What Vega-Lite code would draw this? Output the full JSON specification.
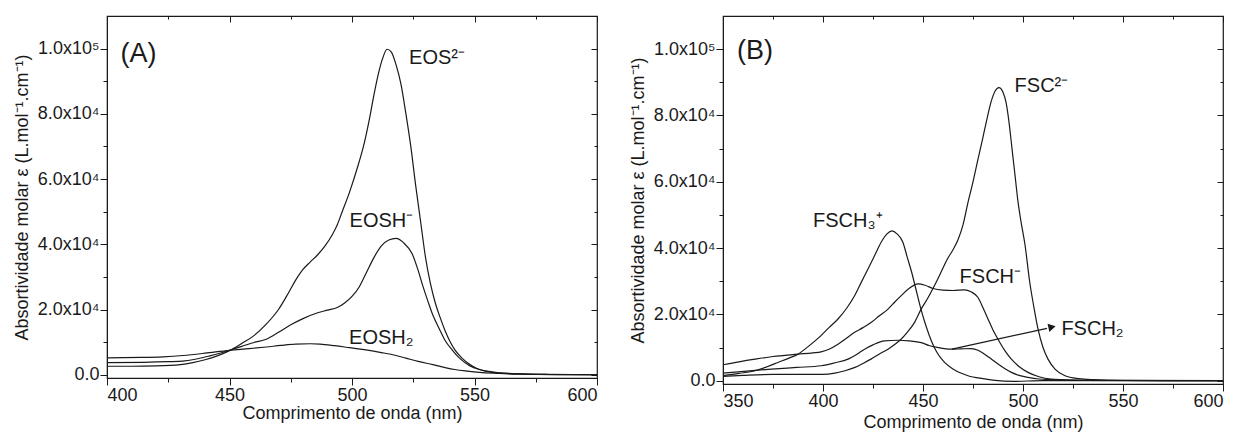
{
  "$schema": "https://vega.github.io/schema/vega-lite/v6.json",
  "padding": {"left": 12, "top": 14, "right": 5, "bottom": 5},
  "spacing": 28,
  "config": {
    "font": "Liberation Sans",
    "view": {"stroke": "#1a1a1a", "strokeWidth": 1.2},
    "axis": {
      "domainColor": "#1a1a1a", "tickColor": "#1a1a1a", "labelColor": "#1a1a1a", "titleColor": "#1a1a1a",
      "grid": false, "labelFontSize": 18, "titleFontSize": 18, "titleFontWeight": "normal",
      "labelFont": "Liberation Sans", "titleFont": "Liberation Sans", "labelOverlap": false, "labelPadding": 1
    }
  },
  "datasets": {
    "A": [
      {"nm":400,"eps":2600,"s":"EOS"},{"nm":410,"eps":2600,"s":"EOS"},{"nm":420,"eps":2700,"s":"EOS"},{"nm":430,"eps":3100,"s":"EOS"},{"nm":435,"eps":3700,"s":"EOS"},{"nm":440,"eps":4600,"s":"EOS"},{"nm":445,"eps":5800,"s":"EOS"},{"nm":450,"eps":7400,"s":"EOS"},{"nm":455,"eps":9600,"s":"EOS"},{"nm":460,"eps":12000,"s":"EOS"},{"nm":465,"eps":15500,"s":"EOS"},{"nm":470,"eps":20000,"s":"EOS"},{"nm":474,"eps":25000,"s":"EOS"},{"nm":477,"eps":29000,"s":"EOS"},{"nm":480,"eps":32300,"s":"EOS"},{"nm":483,"eps":34600,"s":"EOS"},{"nm":486,"eps":36800,"s":"EOS"},{"nm":489,"eps":39500,"s":"EOS"},{"nm":492,"eps":43000,"s":"EOS"},{"nm":494,"eps":46000,"s":"EOS"},{"nm":496,"eps":50000,"s":"EOS"},{"nm":499,"eps":56000,"s":"EOS"},{"nm":502,"eps":63000,"s":"EOS"},{"nm":505,"eps":71000,"s":"EOS"},{"nm":507,"eps":78000,"s":"EOS"},{"nm":509,"eps":86000,"s":"EOS"},{"nm":511,"eps":93000,"s":"EOS"},{"nm":512.5,"eps":97000,"s":"EOS"},{"nm":514.3,"eps":99800,"s":"EOS"},{"nm":516,"eps":99000,"s":"EOS"},{"nm":518,"eps":95000,"s":"EOS"},{"nm":520,"eps":89000,"s":"EOS"},{"nm":522,"eps":80000,"s":"EOS"},{"nm":524,"eps":70000,"s":"EOS"},{"nm":526,"eps":58000,"s":"EOS"},{"nm":528,"eps":47000,"s":"EOS"},{"nm":530,"eps":36000,"s":"EOS"},{"nm":532,"eps":28000,"s":"EOS"},{"nm":534,"eps":22000,"s":"EOS"},{"nm":536,"eps":17500,"s":"EOS"},{"nm":538,"eps":13500,"s":"EOS"},{"nm":540,"eps":10200,"s":"EOS"},{"nm":542,"eps":7600,"s":"EOS"},{"nm":545,"eps":5000,"s":"EOS"},{"nm":548,"eps":3200,"s":"EOS"},{"nm":551,"eps":1900,"s":"EOS"},{"nm":555,"eps":1100,"s":"EOS"},{"nm":560,"eps":600,"s":"EOS"},{"nm":570,"eps":250,"s":"EOS"},{"nm":580,"eps":100,"s":"EOS"},{"nm":600,"eps":0,"s":"EOS"},
      {"nm":400,"eps":3700,"s":"EOSH"},{"nm":415,"eps":3800,"s":"EOSH"},{"nm":425,"eps":4000,"s":"EOSH"},{"nm":431,"eps":4200,"s":"EOSH"},{"nm":437,"eps":4900,"s":"EOSH"},{"nm":442,"eps":5800,"s":"EOSH"},{"nm":446,"eps":6600,"s":"EOSH"},{"nm":450,"eps":7500,"s":"EOSH"},{"nm":455,"eps":8700,"s":"EOSH"},{"nm":460,"eps":9900,"s":"EOSH"},{"nm":465,"eps":10900,"s":"EOSH"},{"nm":470,"eps":13000,"s":"EOSH"},{"nm":475,"eps":15300,"s":"EOSH"},{"nm":480,"eps":17200,"s":"EOSH"},{"nm":486,"eps":19000,"s":"EOSH"},{"nm":490,"eps":19800,"s":"EOSH"},{"nm":494,"eps":20600,"s":"EOSH"},{"nm":497,"eps":22000,"s":"EOSH"},{"nm":500,"eps":24000,"s":"EOSH"},{"nm":503,"eps":27000,"s":"EOSH"},{"nm":506,"eps":31500,"s":"EOSH"},{"nm":509,"eps":36000,"s":"EOSH"},{"nm":512,"eps":39500,"s":"EOSH"},{"nm":515,"eps":41300,"s":"EOSH"},{"nm":518,"eps":41800,"s":"EOSH"},{"nm":521,"eps":40500,"s":"EOSH"},{"nm":524.6,"eps":37000,"s":"EOSH"},{"nm":527,"eps":32000,"s":"EOSH"},{"nm":529,"eps":27000,"s":"EOSH"},{"nm":531,"eps":22500,"s":"EOSH"},{"nm":533,"eps":18300,"s":"EOSH"},{"nm":536,"eps":13500,"s":"EOSH"},{"nm":538,"eps":10500,"s":"EOSH"},{"nm":541,"eps":7500,"s":"EOSH"},{"nm":544,"eps":5000,"s":"EOSH"},{"nm":548,"eps":2800,"s":"EOSH"},{"nm":552,"eps":1600,"s":"EOSH"},{"nm":556,"eps":900,"s":"EOSH"},{"nm":560,"eps":500,"s":"EOSH"},{"nm":570,"eps":200,"s":"EOSH"},{"nm":580,"eps":80,"s":"EOSH"},{"nm":600,"eps":0,"s":"EOSH"},
      {"nm":400,"eps":5200,"s":"EOSH2"},{"nm":414,"eps":5300,"s":"EOSH2"},{"nm":423,"eps":5500,"s":"EOSH2"},{"nm":431,"eps":5900,"s":"EOSH2"},{"nm":440,"eps":6600,"s":"EOSH2"},{"nm":450,"eps":7500,"s":"EOSH2"},{"nm":458,"eps":8000,"s":"EOSH2"},{"nm":465,"eps":8500,"s":"EOSH2"},{"nm":471,"eps":9000,"s":"EOSH2"},{"nm":477,"eps":9400,"s":"EOSH2"},{"nm":483,"eps":9500,"s":"EOSH2"},{"nm":487,"eps":9400,"s":"EOSH2"},{"nm":493,"eps":8900,"s":"EOSH2"},{"nm":499,"eps":8300,"s":"EOSH2"},{"nm":505,"eps":7700,"s":"EOSH2"},{"nm":512,"eps":6800,"s":"EOSH2"},{"nm":518,"eps":5900,"s":"EOSH2"},{"nm":522,"eps":5100,"s":"EOSH2"},{"nm":527,"eps":4100,"s":"EOSH2"},{"nm":533,"eps":3100,"s":"EOSH2"},{"nm":538,"eps":2200,"s":"EOSH2"},{"nm":542,"eps":1600,"s":"EOSH2"},{"nm":547,"eps":1100,"s":"EOSH2"},{"nm":552,"eps":700,"s":"EOSH2"},{"nm":560,"eps":400,"s":"EOSH2"},{"nm":570,"eps":150,"s":"EOSH2"},{"nm":585,"eps":50,"s":"EOSH2"},{"nm":600,"eps":0,"s":"EOSH2"}
    ],
    "B": [
      {"nm":350,"eps":1300,"s":"FSC"},{"nm":360,"eps":1600,"s":"FSC"},{"nm":375,"eps":1900,"s":"FSC"},{"nm":390,"eps":1900,"s":"FSC"},{"nm":400,"eps":1900,"s":"FSC"},{"nm":406,"eps":2300,"s":"FSC"},{"nm":411,"eps":3000,"s":"FSC"},{"nm":416,"eps":4000,"s":"FSC"},{"nm":420,"eps":5200,"s":"FSC"},{"nm":424,"eps":6500,"s":"FSC"},{"nm":428,"eps":8000,"s":"FSC"},{"nm":432.5,"eps":9500,"s":"FSC"},{"nm":436,"eps":11000,"s":"FSC"},{"nm":439,"eps":12500,"s":"FSC"},{"nm":442,"eps":14500,"s":"FSC"},{"nm":445.8,"eps":17600,"s":"FSC"},{"nm":449,"eps":21500,"s":"FSC"},{"nm":452.5,"eps":25000,"s":"FSC"},{"nm":456,"eps":29000,"s":"FSC"},{"nm":459,"eps":32700,"s":"FSC"},{"nm":462,"eps":36500,"s":"FSC"},{"nm":465,"eps":39500,"s":"FSC"},{"nm":467.5,"eps":42500,"s":"FSC"},{"nm":470,"eps":47000,"s":"FSC"},{"nm":472.5,"eps":53800,"s":"FSC"},{"nm":475,"eps":60000,"s":"FSC"},{"nm":477.5,"eps":66800,"s":"FSC"},{"nm":480,"eps":73500,"s":"FSC"},{"nm":482,"eps":79000,"s":"FSC"},{"nm":484,"eps":84000,"s":"FSC"},{"nm":486,"eps":87300,"s":"FSC"},{"nm":488,"eps":88400,"s":"FSC"},{"nm":490,"eps":87000,"s":"FSC"},{"nm":491.5,"eps":84000,"s":"FSC"},{"nm":493,"eps":78000,"s":"FSC"},{"nm":494.5,"eps":70000,"s":"FSC"},{"nm":496,"eps":62000,"s":"FSC"},{"nm":497.5,"eps":54000,"s":"FSC"},{"nm":499,"eps":48000,"s":"FSC"},{"nm":501,"eps":41000,"s":"FSC"},{"nm":503.3,"eps":30000,"s":"FSC"},{"nm":505.5,"eps":22000,"s":"FSC"},{"nm":507.5,"eps":15600,"s":"FSC"},{"nm":510,"eps":10000,"s":"FSC"},{"nm":512.5,"eps":6500,"s":"FSC"},{"nm":516,"eps":3500,"s":"FSC"},{"nm":521,"eps":1500,"s":"FSC"},{"nm":528,"eps":600,"s":"FSC"},{"nm":535,"eps":300,"s":"FSC"},{"nm":550,"eps":100,"s":"FSC"},{"nm":600,"eps":0,"s":"FSC"},
      {"nm":350,"eps":1500,"s":"FSCH3"},{"nm":358,"eps":2200,"s":"FSCH3"},{"nm":366,"eps":3000,"s":"FSCH3"},{"nm":372,"eps":4200,"s":"FSCH3"},{"nm":377.5,"eps":5500,"s":"FSCH3"},{"nm":383,"eps":6800,"s":"FSCH3"},{"nm":387.5,"eps":8000,"s":"FSCH3"},{"nm":393,"eps":10500,"s":"FSCH3"},{"nm":399,"eps":13600,"s":"FSCH3"},{"nm":403,"eps":16000,"s":"FSCH3"},{"nm":407.5,"eps":18600,"s":"FSCH3"},{"nm":412,"eps":22000,"s":"FSCH3"},{"nm":415.8,"eps":25600,"s":"FSCH3"},{"nm":419,"eps":29500,"s":"FSCH3"},{"nm":422.5,"eps":33700,"s":"FSCH3"},{"nm":426,"eps":38000,"s":"FSCH3"},{"nm":429,"eps":41700,"s":"FSCH3"},{"nm":432,"eps":44300,"s":"FSCH3"},{"nm":434.5,"eps":45200,"s":"FSCH3"},{"nm":437,"eps":44300,"s":"FSCH3"},{"nm":440,"eps":41700,"s":"FSCH3"},{"nm":442,"eps":37500,"s":"FSCH3"},{"nm":444.2,"eps":33000,"s":"FSCH3"},{"nm":446.5,"eps":27500,"s":"FSCH3"},{"nm":449,"eps":21500,"s":"FSCH3"},{"nm":451.5,"eps":16500,"s":"FSCH3"},{"nm":454.2,"eps":12000,"s":"FSCH3"},{"nm":457,"eps":8500,"s":"FSCH3"},{"nm":460.8,"eps":5500,"s":"FSCH3"},{"nm":465,"eps":3500,"s":"FSCH3"},{"nm":472.5,"eps":1500,"s":"FSCH3"},{"nm":480,"eps":600,"s":"FSCH3"},{"nm":486,"eps":100,"s":"FSCH3"},{"nm":495,"eps":-200,"s":"FSCH3"},{"nm":510,"eps":0,"s":"FSCH3"},{"nm":600,"eps":0,"s":"FSCH3"},
      {"nm":350,"eps":4800,"s":"FSCH"},{"nm":358,"eps":5700,"s":"FSCH"},{"nm":366,"eps":6500,"s":"FSCH"},{"nm":375,"eps":7300,"s":"FSCH"},{"nm":387.5,"eps":8000,"s":"FSCH"},{"nm":395,"eps":8400,"s":"FSCH"},{"nm":399,"eps":8700,"s":"FSCH"},{"nm":403,"eps":9500,"s":"FSCH"},{"nm":407.5,"eps":11000,"s":"FSCH"},{"nm":411,"eps":12500,"s":"FSCH"},{"nm":415.8,"eps":14600,"s":"FSCH"},{"nm":420,"eps":16000,"s":"FSCH"},{"nm":424.2,"eps":17600,"s":"FSCH"},{"nm":428,"eps":19500,"s":"FSCH"},{"nm":432.5,"eps":21600,"s":"FSCH"},{"nm":436,"eps":23800,"s":"FSCH"},{"nm":439,"eps":25600,"s":"FSCH"},{"nm":443,"eps":27800,"s":"FSCH"},{"nm":447.5,"eps":29200,"s":"FSCH"},{"nm":451,"eps":28800,"s":"FSCH"},{"nm":455,"eps":27800,"s":"FSCH"},{"nm":460,"eps":27300,"s":"FSCH"},{"nm":465,"eps":27200,"s":"FSCH"},{"nm":470.8,"eps":27400,"s":"FSCH"},{"nm":474,"eps":26800,"s":"FSCH"},{"nm":477.5,"eps":25100,"s":"FSCH"},{"nm":480,"eps":22000,"s":"FSCH"},{"nm":482.5,"eps":18600,"s":"FSCH"},{"nm":485,"eps":15300,"s":"FSCH"},{"nm":487.5,"eps":12500,"s":"FSCH"},{"nm":491,"eps":9000,"s":"FSCH"},{"nm":494.2,"eps":6500,"s":"FSCH"},{"nm":498,"eps":4300,"s":"FSCH"},{"nm":502.5,"eps":2500,"s":"FSCH"},{"nm":508,"eps":1200,"s":"FSCH"},{"nm":514,"eps":500,"s":"FSCH"},{"nm":525,"eps":200,"s":"FSCH"},{"nm":550,"eps":50,"s":"FSCH"},{"nm":600,"eps":0,"s":"FSCH"},
      {"nm":350,"eps":2300,"s":"FSCH2"},{"nm":362,"eps":2900,"s":"FSCH2"},{"nm":374.2,"eps":3500,"s":"FSCH2"},{"nm":387,"eps":4000,"s":"FSCH2"},{"nm":399.1,"eps":4500,"s":"FSCH2"},{"nm":406,"eps":5400,"s":"FSCH2"},{"nm":412.5,"eps":6500,"s":"FSCH2"},{"nm":417,"eps":8000,"s":"FSCH2"},{"nm":420.8,"eps":9500,"s":"FSCH2"},{"nm":425,"eps":10800,"s":"FSCH2"},{"nm":430.8,"eps":12000,"s":"FSCH2"},{"nm":437.5,"eps":12200,"s":"FSCH2"},{"nm":443,"eps":12000,"s":"FSCH2"},{"nm":449.1,"eps":11500,"s":"FSCH2"},{"nm":453,"eps":10600,"s":"FSCH2"},{"nm":457.5,"eps":10000,"s":"FSCH2"},{"nm":464.2,"eps":9500,"s":"FSCH2"},{"nm":469,"eps":9600,"s":"FSCH2"},{"nm":474.2,"eps":9700,"s":"FSCH2"},{"nm":477.5,"eps":9200,"s":"FSCH2"},{"nm":480.8,"eps":8000,"s":"FSCH2"},{"nm":484,"eps":6600,"s":"FSCH2"},{"nm":487.5,"eps":5000,"s":"FSCH2"},{"nm":491,"eps":3600,"s":"FSCH2"},{"nm":494.2,"eps":2500,"s":"FSCH2"},{"nm":498,"eps":1600,"s":"FSCH2"},{"nm":502.5,"eps":1000,"s":"FSCH2"},{"nm":508,"eps":500,"s":"FSCH2"},{"nm":514,"eps":300,"s":"FSCH2"},{"nm":530,"eps":100,"s":"FSCH2"},{"nm":600,"eps":0,"s":"FSCH2"}
    ],
    "labA": [
      {"x":523.3,"y":97000,"t":"EOS²⁻"},
      {"x":499,"y":47100,"t":"EOSH⁻"},
      {"x":498.8,"y":11300,"t":"EOSH₂"}
    ],
    "labB": [
      {"x":495.8,"y":89000,"t":"FSC²⁻"},
      {"x":395,"y":48200,"t":"FSCH₃⁺"},
      {"x":468.3,"y":31200,"t":"FSCH⁻"},
      {"x":519.2,"y":15600,"t":"FSCH₂"}
    ],
    "panA": [{"x":405.5,"y":98500,"t":"(A)"}],
    "panB": [{"x":357,"y":99300,"t":"(B)"}],
    "arrow": [{"x":464.5,"y":9500,"x2":512,"y2":15800}],
    "head": [{"x":514.5,"y":16150}]
  },
  "hconcat": [
    {
      "width": 490,
      "height": 362,
      "resolve": {"axis": {"x": "independent", "y": "independent"}},
      "layer": [
        {
          "data": {"name": "A"},
          "mark": {"type": "line", "color": "#1a1a1a", "strokeWidth": 1.2, "interpolate": "monotone"},
          "encoding": {
            "x": {"field": "nm", "type": "quantitative",
                  "scale": {"domain": [400, 600], "nice": false, "zero": false},
                  "axis": {"title": "Comprimento de onda (nm)", "values": [400,425,450,475,500,525,550,575,600],
                           "labelExpr": "datum.value % 50 === 0 ? datum.label : ''",
                           "tickSize": {"condition": {"test": "datum.value % 50 === 0", "value": 7}, "value": 4},
                           "titlePadding": 0}},
            "y": {"field": "eps", "type": "quantitative",
                  "scale": {"domain": [-1000, 110000], "nice": false, "zero": false},
                  "axis": {"title": "Absortividade molar ε (L.mol⁻¹.cm⁻¹)",
                           "values": [0,10000,20000,30000,40000,50000,60000,70000,80000,90000,100000],
                           "labelExpr": "datum.value === 0 ? '0.0' : datum.value === 100000 ? '1.0x10⁵' : datum.value % 20000 === 0 ? format(datum.value/10000, '.1f') + 'x10⁴' : ''",
                           "tickSize": {"condition": {"test": "datum.value % 20000 === 0", "value": 7}, "value": 4},
                           "titlePadding": 6}},
            "detail": {"field": "s"}
          }
        },
        {
          "data": {"name": "A"},
          "mark": {"type": "line", "strokeOpacity": 0},
          "encoding": {
            "x": {"field": "nm", "type": "quantitative",
                  "axis": {"orient": "top", "title": null, "labels": false, "domain": false,
                           "values": [400,425,450,475,500,525,550,575,600],
                           "tickSize": {"condition": {"test": "datum.value % 50 === 0", "value": -6}, "value": -3}}},
            "y": {"field": "eps", "type": "quantitative",
                  "axis": {"orient": "right", "title": null, "labels": false, "domain": false,
                           "values": [0,10000,20000,30000,40000,50000,60000,70000,80000,90000,100000],
                           "tickSize": {"condition": {"test": "datum.value % 20000 === 0", "value": -6}, "value": -3}}},
            "detail": {"field": "s"}
          }
        },
        {
          "data": {"name": "labA"},
          "mark": {"type": "text", "align": "left", "baseline": "middle", "fontSize": 20, "color": "#1a1a1a"},
          "encoding": {
            "x": {"field": "x", "type": "quantitative", "axis": null},
            "y": {"field": "y", "type": "quantitative", "axis": null},
            "text": {"field": "t"}
          }
        },
        {
          "data": {"name": "panA"},
          "mark": {"type": "text", "align": "left", "baseline": "middle", "fontSize": 27, "color": "#1a1a1a"},
          "encoding": {
            "x": {"field": "x", "type": "quantitative", "axis": null},
            "y": {"field": "y", "type": "quantitative", "axis": null},
            "text": {"field": "t"}
          }
        }
      ]
    },
    {
      "width": 500,
      "height": 368,
      "resolve": {"axis": {"x": "independent", "y": "independent"}},
      "layer": [
        {
          "data": {"name": "B"},
          "mark": {"type": "line", "color": "#1a1a1a", "strokeWidth": 1.2, "interpolate": "monotone"},
          "encoding": {
            "x": {"field": "nm", "type": "quantitative",
                  "scale": {"domain": [350, 600], "nice": false, "zero": false},
                  "axis": {"title": "Comprimento de onda (nm)", "values": [350,375,400,425,450,475,500,525,550,575,600],
                           "labelExpr": "datum.value % 50 === 0 ? datum.label : ''",
                           "tickSize": {"condition": {"test": "datum.value % 50 === 0", "value": 7}, "value": 4},
                           "titlePadding": 3}},
            "y": {"field": "eps", "type": "quantitative",
                  "scale": {"domain": [-1000, 110000], "nice": false, "zero": false},
                  "axis": {"title": "Absortividade molar ε (L.mol⁻¹.cm⁻¹)",
                           "values": [0,10000,20000,30000,40000,50000,60000,70000,80000,90000,100000],
                           "labelExpr": "datum.value === 0 ? '0.0' : datum.value === 100000 ? '1.0x10⁵' : datum.value % 20000 === 0 ? format(datum.value/10000, '.1f') + 'x10⁴' : ''",
                           "tickSize": {"condition": {"test": "datum.value % 20000 === 0", "value": 7}, "value": 4},
                           "titlePadding": 6}},
            "detail": {"field": "s"}
          }
        },
        {
          "data": {"name": "B"},
          "mark": {"type": "line", "strokeOpacity": 0},
          "encoding": {
            "x": {"field": "nm", "type": "quantitative",
                  "axis": {"orient": "top", "title": null, "labels": false, "domain": false,
                           "values": [350,375,400,425,450,475,500,525,550,575,600],
                           "tickSize": {"condition": {"test": "datum.value % 50 === 0", "value": -6}, "value": -3}}},
            "y": {"field": "eps", "type": "quantitative",
                  "axis": {"orient": "right", "title": null, "labels": false, "domain": false,
                           "values": [0,10000,20000,30000,40000,50000,60000,70000,80000,90000,100000],
                           "tickSize": {"condition": {"test": "datum.value % 20000 === 0", "value": -6}, "value": -3}}},
            "detail": {"field": "s"}
          }
        },
        {
          "data": {"name": "arrow"},
          "mark": {"type": "rule", "color": "#1a1a1a", "strokeWidth": 1.3},
          "encoding": {
            "x": {"field": "x", "type": "quantitative", "axis": null},
            "y": {"field": "y", "type": "quantitative", "axis": null},
            "x2": {"field": "x2"},
            "y2": {"field": "y2"}
          }
        },
        {
          "data": {"name": "head"},
          "mark": {"type": "point", "shape": "triangle-right", "filled": true, "size": 70, "angle": 347.5, "color": "#1a1a1a", "opacity": 1},
          "encoding": {
            "x": {"field": "x", "type": "quantitative", "axis": null},
            "y": {"field": "y", "type": "quantitative", "axis": null}
          }
        },
        {
          "data": {"name": "labB"},
          "mark": {"type": "text", "align": "left", "baseline": "middle", "fontSize": 20, "color": "#1a1a1a"},
          "encoding": {
            "x": {"field": "x", "type": "quantitative", "axis": null},
            "y": {"field": "y", "type": "quantitative", "axis": null},
            "text": {"field": "t"}
          }
        },
        {
          "data": {"name": "panB"},
          "mark": {"type": "text", "align": "left", "baseline": "middle", "fontSize": 27, "color": "#1a1a1a"},
          "encoding": {
            "x": {"field": "x", "type": "quantitative", "axis": null},
            "y": {"field": "y", "type": "quantitative", "axis": null},
            "text": {"field": "t"}
          }
        }
      ]
    }
  ]
}
